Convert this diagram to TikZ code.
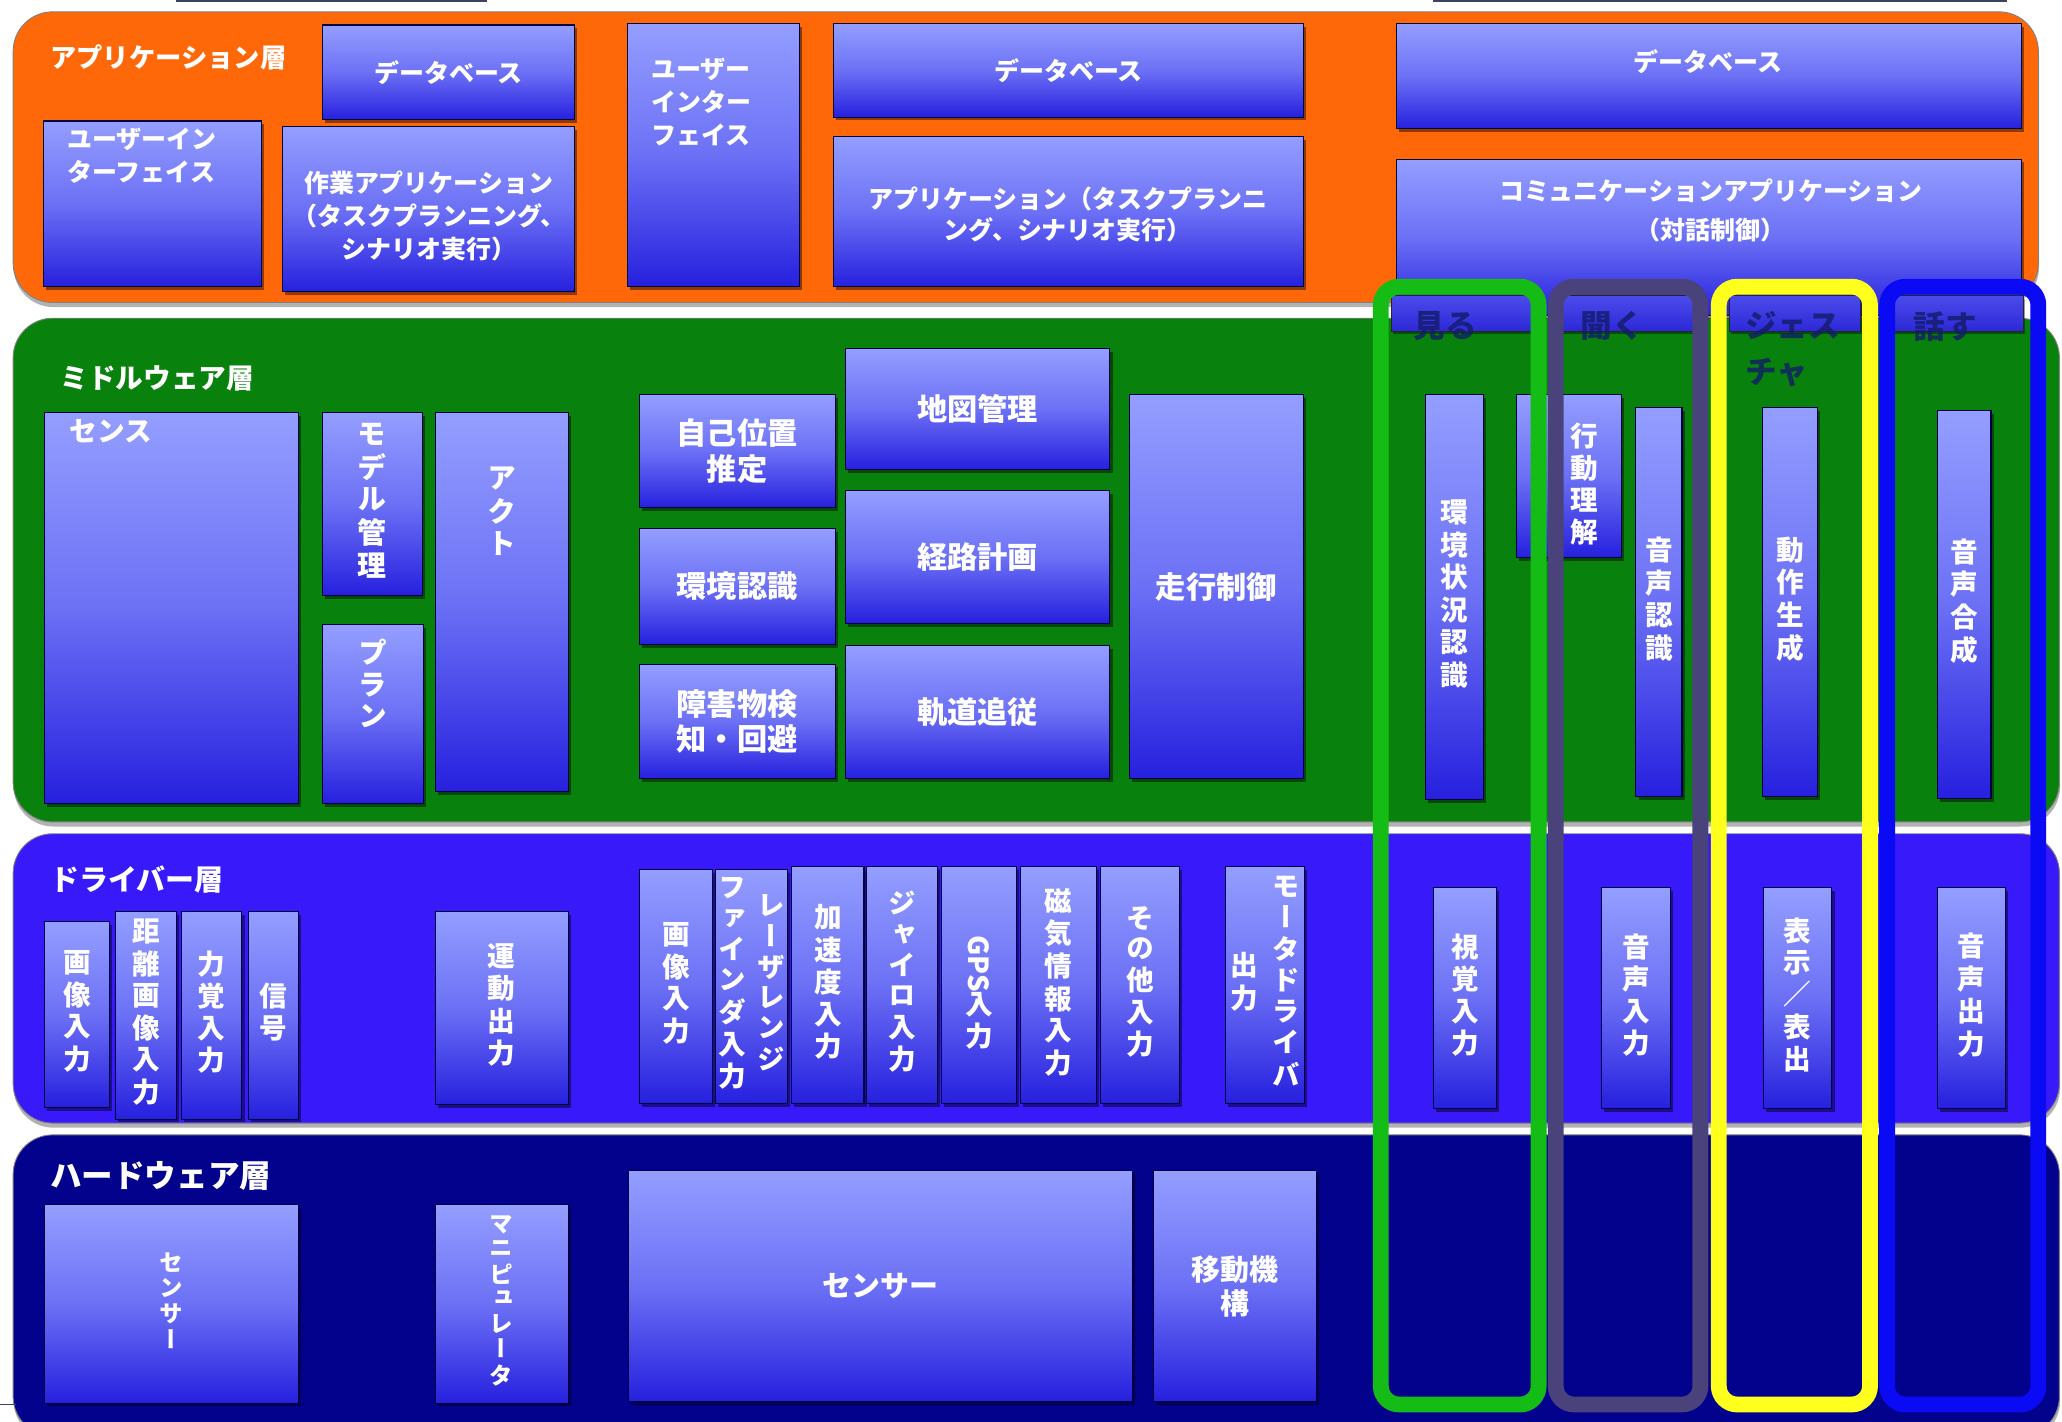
\documentclass[tikz,border=0pt]{standalone}
\usepackage{fontspec}
\usepackage{graphicx}
\newfontfamily\jp{Noto Sans CJK JP}
\newfontfamily\jpv[RawFeature=+vert]{Noto Sans CJK JP}
\usetikzlibrary{shadows}

\definecolor{apporange}{RGB}{255,104,8}
\definecolor{midgreen}{RGB}{8,130,12}
\definecolor{drvblue}{RGB}{55,25,250}
\definecolor{hwnavy}{RGB}{2,2,140}
\definecolor{btop}{RGB}{148,158,255}
\definecolor{bmid}{RGB}{108,112,245}
\definecolor{bbot}{RGB}{38,32,222}
\definecolor{fgreen}{RGB}{22,188,22}
\definecolor{fpurple}{RGB}{74,66,122}
\definecolor{fyellow}{RGB}{255,255,30}
\definecolor{fblue}{RGB}{10,10,245}
\definecolor{hdtext}{RGB}{18,28,105}
\definecolor{stripTop}{RGB}{75,75,235}
\definecolor{stripBot}{RGB}{45,40,215}
\definecolor{cutcol}{RGB}{60,66,90}

\newcommand\fapp{\jp\bfseries\fontsize{19}{25}\selectfont}
\newcommand\fmidl{\jp\bfseries\fontsize{23}{27}\selectfont}
\newcommand\fvt{\jpv\bfseries\fontsize{21}{23}\selectfont}
\newcommand\fvtb{\jpv\bfseries\fontsize{22}{23.5}\selectfont}
\newcommand\fvts{\jpv\bfseries\fontsize{18}{18}\selectfont}
\newcommand\flab[1]{\jp\bfseries\fontsize{#1}{#1}\selectfont}
\newcommand\vst[1]{\begin{tabular}[c]{@{}c@{}}#1\end{tabular}}
\newcommand\bx[7]{%
  \pgfmathsetmacro\bxw{#5-#3}\pgfmathsetmacro\bxh{#6-#4}%
  \pgfmathsetmacro\bxx{(#3+#5)/2}\pgfmathsetmacro\bxy{(#4+#6)/2}%
  \node[#1,minimum width=\bxw pt,minimum height=\bxh pt] (#2) at (\bxx,\bxy) {#7};}

\tikzset{
  lyr/.style={draw=black!50,line width=0.7pt,rounded corners=30pt,inner sep=0pt,outer sep=0pt,
     drop shadow={shadow xshift=0.5pt,shadow yshift=-3.5pt,opacity=0.3,fill=black}},
  rbox/.style={draw=black!75!blue,line width=0.8pt,top color=btop,bottom color=bbot,middle color=bmid,
     inner sep=0pt,outer sep=0pt,text=white,font=\fmidl,align=center,
     drop shadow={shadow xshift=2pt,shadow yshift=-2.5pt,opacity=0.45,fill=black}},
  hdstrip/.style={draw=black!85,line width=0.8pt,top color=stripTop,bottom color=stripBot,inner sep=0pt,outer sep=0pt,
     drop shadow={shadow xshift=1pt,shadow yshift=-2pt,opacity=0.4,fill=black}},
  lanebox/.style={line width=12pt,rounded corners=14pt,inner sep=0pt,outer sep=0pt},
  laylab/.style={text=white,anchor=west,inner sep=0pt},
  txt/.style={text=white,inner sep=0pt,align=center},
  hdt/.style={text=hdtext,text opacity=0.8,inner sep=0pt,anchor=west,align=left,font={\jp\bfseries\fontsize{24}{35}\selectfont}},
  cutline/.style={draw=cutcol,line width=1.6pt},
}

\begin{document}
\begin{tikzpicture}[x=1pt,y=-1pt]
\useasboundingbox (0,0) rectangle (1568,1081);
\clip (0,0) rectangle (1568,1081);
\fill[white] (0,0) rectangle (1568,1081);

% layers
\bx{lyr,fill=apporange}{app}{10}{9}{1550}{230}{}
\bx{lyr,fill=midgreen}{mid}{10}{242}{1566}{625}{}
\bx{lyr,fill=drvblue}{drv}{10}{634}{1566}{854}{}
\bx{lyr,fill=hwnavy}{hw}{10}{863}{1566}{1092}{}

% cut-off edges
\coordinate (c1a) at (134,0.8); \coordinate (c1b) at (370,0.8);
\coordinate (c2a) at (1090,0.8); \coordinate (c2b) at (1526,0.8);
\coordinate (c3a) at (0,1068); \coordinate (c3b) at (12,1068);
\draw[cutline] (c1a) -- (c1b);
\draw[cutline] (c2a) -- (c2b);
\draw[cutline,line width=1pt] (c3a) -- (c3b);

% application layer
\node[laylab,font={\flab{20}}] (applab) at (38,44) {アプリケーション層};
\bx{rbox,font=\fapp}{appdb1}{245}{19}{437}{91}{データベース}
\bx{rbox}{appui1}{33}{92}{199}{218}{}
\node[txt,font=\fapp,anchor=west,align=left] (appui1t) at (51,118.5) {ユーザーイン\\ターフェイス};
\bx{rbox}{apptask1}{215}{96}{437}{222}{}
\node[txt,font=\fapp] (apptask1t) at (326,164) {作業アプリケーション\\（タスクプランニング、\\シナリオ実行）};
\bx{rbox}{appui2}{477}{18}{608}{218}{}
\node[txt,font=\fapp,anchor=west,align=left] (appui2t) at (495,77.5) {ユーザー\\インター\\フェイス};
\bx{rbox,font=\fapp}{appdb2}{634}{18}{991}{89}{データベース}
\bx{rbox}{apptask2}{634}{104}{991}{218}{}
\node[txt,font={\jp\bfseries\fontsize{19}{24}\selectfont}] (apptask2t) at (812,163) {アプリケーション（タスクプランニ\\ング、シナリオ実行）};
\bx{rbox}{appdb3}{1062}{18}{1537}{98}{}
\node[txt,font=\fapp] (appdb3t) at (1299,47) {データベース};
\bx{rbox}{comm}{1062}{121}{1537}{240}{}
\node[txt,font={\jp\bfseries\fontsize{19}{29}\selectfont}] (commt) at (1301,160) {コミュニケーションアプリケーション\\（対話制御）};

% middleware layer
\node[laylab,font={\flab{21}}] (midlab) at (46,287.5) {ミドルウェア層};
\bx{rbox}{sense}{34}{314}{227}{611}{}
\node[laylab,font={\flab{21}}] (senset) at (53,328) {センス};
\bx{rbox,font=\fvtb}{model}{245}{314}{321}{453}{\vst{モ\\デ\\ル\\管\\理}}
\bx{rbox}{plan}{245}{475}{322}{611}{}
\node[txt,font=\fvtb,anchor=north] (plant) at (283.5,486) {\vst{プ\\ラ\\ン}};
\bx{rbox}{act}{331}{314}{432}{602}{}
\node[txt,font=\fvtb,anchor=north] (actt) at (381.5,355) {\vst{ア\\ク\\ト}};
\bx{rbox}{selfloc}{486}{300}{635}{386}{自己位置\\推定}
\bx{rbox}{envrec}{486}{402}{635}{490}{環境認識}
\bx{rbox}{obst}{486}{505}{635}{592}{障害物検\\知・回避}
\bx{rbox}{map}{643}{265}{844}{357}{地図管理}
\bx{rbox}{route}{643}{373}{844}{474}{経路計画}
\bx{rbox}{track}{643}{491}{844}{592}{軌道追従}
\bx{rbox}{drive}{859}{300}{991}{592}{走行制御}
\bx{rbox,font=\fvt}{envsit}{1084}{300}{1128}{608}{\vst{環\\境\\状\\況\\認\\識}}
\bx{rbox}{actund}{1153}{300}{1233}{424}{}
\node[txt,font=\fvt,anchor=north] (actundt) at (1204.5,321) {\vst{行\\動\\理\\解}};
\bx{rbox,font=\fvt}{speechrec}{1244}{310}{1279}{606}{\vst{音\\声\\認\\識}}
\bx{rbox,font=\fvt}{motgen}{1340}{310}{1382}{606}{\vst{動\\作\\生\\成}}
\bx{rbox,font=\fvt}{speechsyn}{1473}{312}{1514}{607}{\vst{音\\声\\合\\成}}

% driver layer
\node[laylab,font={\flab{22}}] (drvlab) at (38,668.5) {ドライバー層};
\bx{rbox,font=\fvt}{img1}{34}{701}{83}{842}{\vst{画\\像\\入\\力}}
\bx{rbox,font=\fvt}{depth}{88}{693}{134}{851}{\vst{距\\離\\画\\像\\入\\力}}
\bx{rbox,font=\fvt}{force}{138}{693}{184}{851}{\vst{力\\覚\\入\\力}}
\bx{rbox,font=\fvt}{signal}{189}{693}{227}{851}{\vst{信\\号}}
\bx{rbox,font=\fvt}{motion}{331}{693}{432}{840}{\vst{運\\動\\出\\力}}
\bx{rbox,font=\fvt}{img2}{486}{661}{542}{839}{\vst{画\\像\\入\\力}}
\bx{rbox,font=\fvt}{lrf}{544}{661}{599}{839}{\begin{tabular}{@{}c@{\hspace{9pt}}c@{}}\vst{フ\\ァ\\イ\\ン\\ダ\\入\\力}&\vst{レ\\ー\\ザ\\レ\\ン\\ジ}\end{tabular}}
\bx{rbox,font=\fvt}{accel}{602}{659}{657}{839}{\vst{加\\速\\度\\入\\力}}
\bx{rbox,font=\fvt}{gyro}{659}{659}{713}{839}{\vst{ジ\\ャ\\イ\\ロ\\入\\力}}
\bx{rbox,font=\fvt}{gps}{716}{659}{773}{839}{\vst{\rotatebox{-90}{GPS}\\入\\力}}
\bx{rbox,font=\fvt}{mag}{776}{659}{834}{839}{\vst{磁\\気\\情\\報\\入\\力}}
\bx{rbox,font=\fvt}{other}{837}{659}{897}{839}{\vst{そ\\の\\他\\入\\力}}
\bx{rbox,font=\fvt}{motdrv}{932}{659}{992}{839}{\begin{tabular}{@{}c@{\hspace{11pt}}c@{}}\vst{出\\力}&\vst{モ\\ー\\タ\\ド\\ラ\\イ\\バ}\end{tabular}}
\bx{rbox,font=\fvt}{vis}{1090}{675}{1138}{843}{\vst{視\\覚\\入\\力}}
\bx{rbox,font=\fvt}{audin}{1218}{675}{1270}{843}{\vst{音\\声\\入\\力}}
\bx{rbox,font=\fvt}{disp}{1341}{675}{1393}{843}{\vst{表\\示\\／\\表\\出}}
\bx{rbox,font=\fvt}{audout}{1473}{675}{1525}{843}{\vst{音\\声\\出\\力}}

% hardware layer
\node[laylab,font={\flab{24}}] (hwlab) at (38,894) {ハードウェア層};
\bx{rbox,font=\fvts}{sensor1}{34}{916}{227}{1067}{\vst{セ\\ン\\サ\\ー}}
\bx{rbox,font=\fvts}{manip}{331}{916}{432}{1067}{\vst{マ\\ニ\\ピ\\ュ\\レ\\ー\\タ}}
\bx{rbox,font={\jp\bfseries\fontsize{22}{26}\selectfont}}{sensor2}{478}{890}{861}{1066}{センサー}
\bx{rbox,font={\jp\bfseries\fontsize{22}{26}\selectfont}}{mobile}{877}{890}{1001}{1066}{移動機\\構}

% header strips
\bx{hdstrip}{hdsee}{1058}{225}{1168}{252}{}
\bx{hdstrip}{hdhear}{1187}{225}{1290}{252}{}
\bx{hdstrip}{hdgest}{1315}{225}{1415}{252}{}
\bx{hdstrip}{hdtalk}{1440}{225}{1539}{252}{}

% lanes
\bx{lanebox,draw=fgreen}{frsee}{1050}{218}{1170}{1068}{}
\bx{lanebox,draw=fpurple}{frhear}{1183}{218}{1293}{1068}{}
\bx{lanebox,draw=fyellow}{frgest}{1307}{218}{1422}{1068}{}
\bx{lanebox,draw=fblue}{frtalk}{1435}{218}{1550}{1068}{}

% header texts
\node[hdt] (tsee) at (1075,248) {見る};
\node[hdt] (thear) at (1202,248) {聞く};
\node[hdt] (tgest) at (1327,265.5) {ジェス\\チャ};
\node[hdt] (ttalk) at (1455,248) {話す};
\end{tikzpicture}
\end{document}
